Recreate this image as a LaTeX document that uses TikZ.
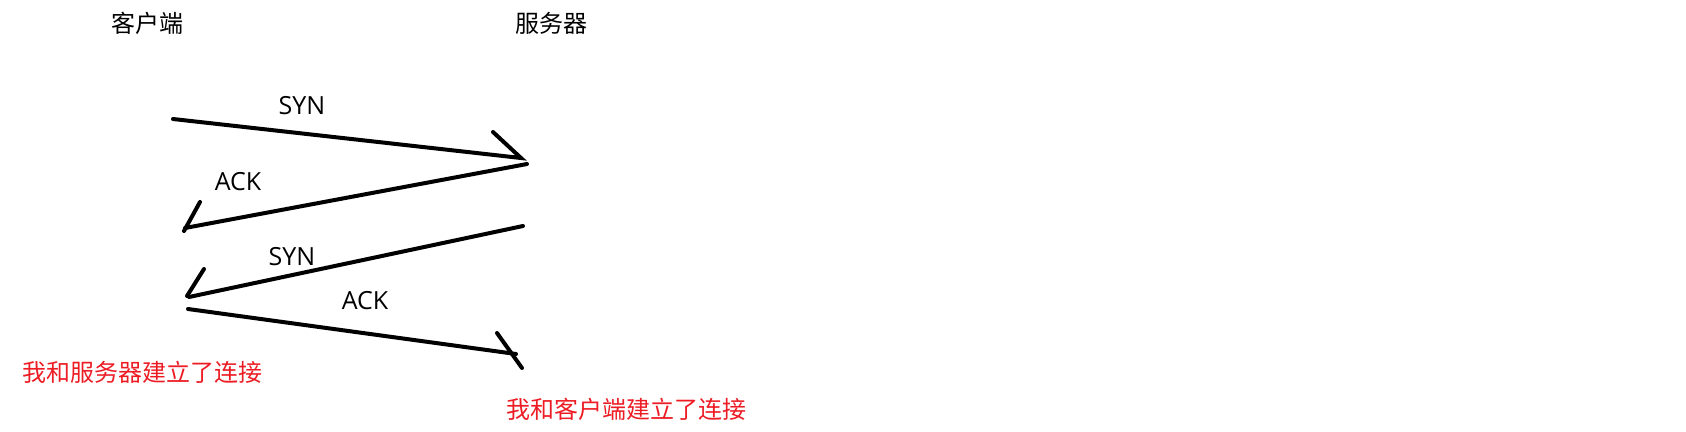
\documentclass[tikz,border=0pt]{standalone}
\usepackage{fontspec}
\setmainfont{Open Sans}
\newfontfamily\cjkfont{Noto Sans CJK SC}
\definecolor{myred}{RGB}{237,28,36}
\tikzset{
    msgline/.style={
           line width=4pt,
           line cap=round,
           draw=black,
           },
    side/.style={font=\cjkfont\fontsize{24}{28}\selectfont, inner sep=0pt},
    msg/.style={font=\fontsize{25}{30}\selectfont, inner sep=0pt},
    done/.style={side, text=myred},
}

\begin{document}
\begin{tikzpicture}[x=1pt, y=-1pt]
  \useasboundingbox (0,0) rectangle (1686,431);
  \node[side] (client) at (147, 23) {客户端};
  \node[side] (server) at (551, 23) {服务器};
  % ends of the four messages and of their barbs
  \coordinate (C1) at (173, 119);
  \coordinate (S1) at (521, 158);
  \coordinate (B1) at (493, 132);
  \coordinate (S2) at (527, 164);
  \coordinate (C2) at (185, 228);
  \coordinate (D2) at (184, 231);
  \coordinate (B2) at (200, 202);
  \coordinate (S3) at (523, 226);
  \coordinate (C3) at (189, 297);
  \coordinate (D3) at (187, 296);
  \coordinate (B3) at (204, 269);
  \coordinate (C4) at (188, 309);
  \coordinate (S4) at (516, 354);
  \coordinate (B4) at (497, 333);
  \coordinate (E4) at (522, 368);
  \draw[msgline] (C1) -- (S1) -- (B1);
  \draw[msgline] (S2) -- (C2);
  \draw[msgline] (D2) -- (B2);
  \draw[msgline] (S3) -- (C3);
  \draw[msgline] (D3) -- (B3);
  \draw[msgline] (C4) -- (S4);
  \draw[msgline] (B4) -- (E4);
  \node[msg] (syn1) at (302, 106) {SYN};
  \node[msg] (ack1) at (238, 182) {ACK};
  \node[msg] (syn2) at (292, 257) {SYN};
  \node[msg] (ack2) at (365, 301) {ACK};
  \node[done] (cdone) at (142, 372) {我和服务器建立了连接};
  \node[done] (sdone) at (626, 409) {我和客户端建立了连接};
\end{tikzpicture}
\end{document}
